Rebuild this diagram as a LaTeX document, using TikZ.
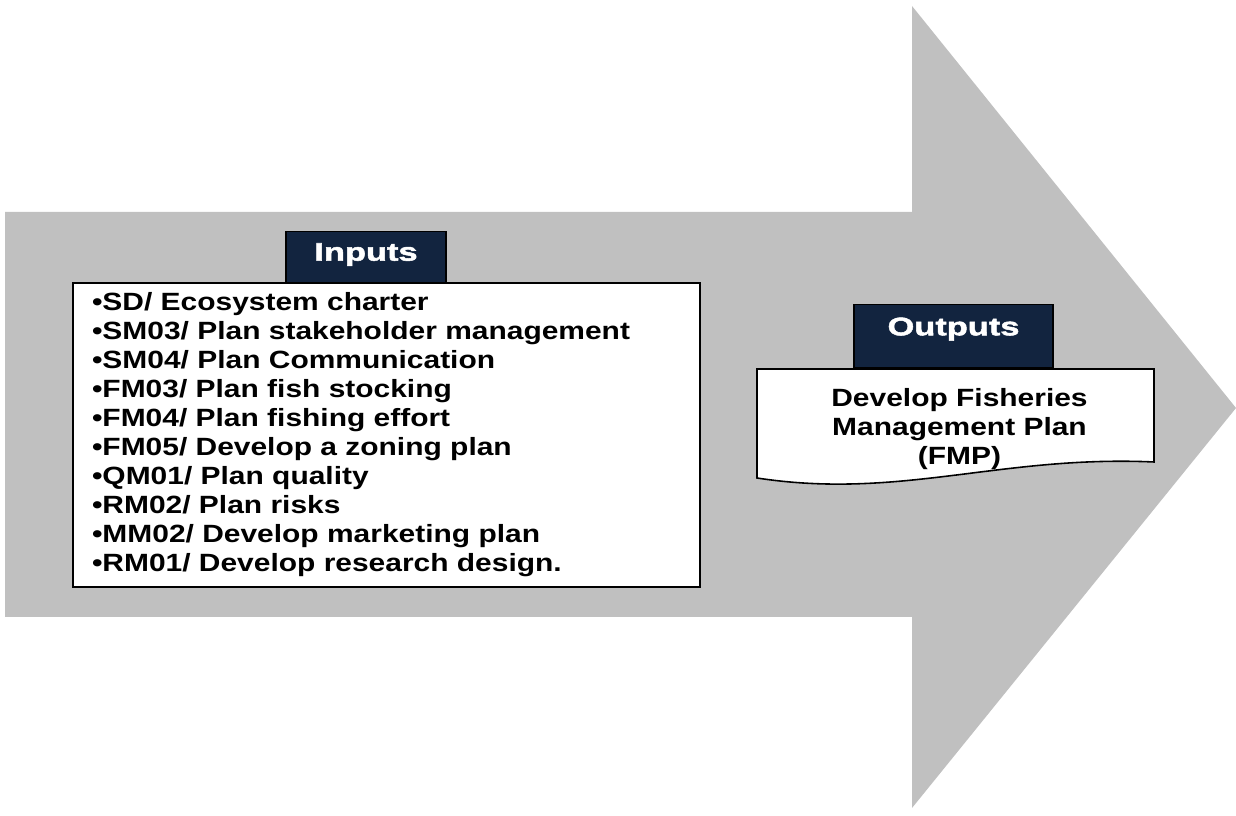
\documentclass[tikz,border=0pt]{standalone}
\usepackage{fontspec}
\usepackage{xcolor}
\newfontfamily\diagfont[FakeStretch=1.2]{Liberation Sans}
\newfontfamily\tabfont[FakeStretch=1.36,FakeBold=2]{Liberation Sans}
\definecolor{ArrowGrey}{HTML}{C0C0C0}
\definecolor{TabNavy}{HTML}{12243F}
\usepackage{tikz}
\usetikzlibrary{positioning}
\tikzset{
  bigarrow/.style={fill=ArrowGrey, draw=none},
  tabbox/.style={rectangle, draw=black, line width=0.6pt, fill=TabNavy, text=white, font=\tabfont\bfseries\fontsize{14.4}{16}\selectfont, align=center},
  listbox/.style={rectangle, draw=black, line width=0.9pt, fill=white, font=\diagfont\bfseries\fontsize{14.2}{16.5}\selectfont, align=left, inner xsep=0.38cm, text width=11.78cm, minimum height=6.08cm},
  docbox/.style={draw=black, line width=0.9pt, fill=white},
  doctext/.style={font=\diagfont\bfseries\fontsize{14.2}{16.5}\selectfont, align=center}
}

\begin{document}
\begin{tikzpicture}
  \useasboundingbox (0,0) rectangle (24.72,16.32);

  % Process arrow
  \fill[bigarrow] (0.1,12.08) -- (18.24,12.08) -- (18.24,16.2) -- (24.72,8.16)
    -- (18.24,0.16) -- (18.24,3.98) -- (0.1,3.98) -- cycle;

  % Inputs
  \node[listbox] (inlist) at (7.73,7.62) {•SD/ Ecosystem charter\\
    •SM03/ Plan stakeholder management\\
    •SM04/ Plan Communication\\
    •FM03/ Plan fish stocking\\
    •FM04/ Plan fishing effort\\
    •FM05/ Develop a zoning plan\\
    •QM01/ Plan quality\\
    •RM02/ Plan risks\\
    •MM02/ Develop marketing plan\\
    •RM01/ Develop research design.};
  \node[tabbox, minimum width=3.2cm, minimum height=1.02cm, text depth=0.2cm, anchor=south] (intab) at (7.32,10.66) {Inputs};

  % Outputs
  \draw[docbox] (15.14,8.94) -- (23.08,8.94) -- (23.08,7.08)
    .. controls (20.0,7.22) and (18.0,6.32) .. (15.14,6.76) -- cycle;
  \node[doctext] (fmp) at (19.19,7.74) {Develop Fisheries\\Management Plan\\(FMP)};
  \node[tabbox, minimum width=3.98cm, minimum height=1.26cm, text depth=0.38cm, anchor=south] (outtab) at (19.07,8.96) {Outputs};
\end{tikzpicture}
\end{document}
